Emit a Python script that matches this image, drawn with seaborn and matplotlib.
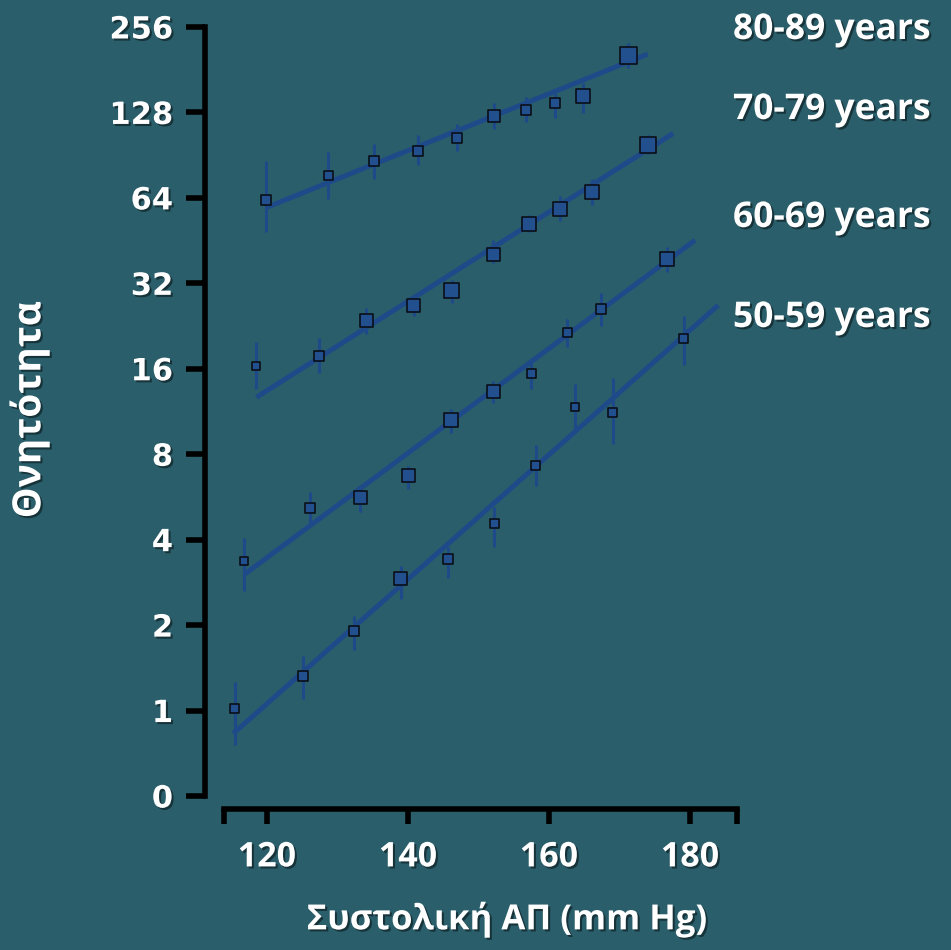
import numpy as np
import pandas as pd
import matplotlib
matplotlib.use("Agg")
import matplotlib.pyplot as plt
import matplotlib.patheffects as pe
import seaborn as sns

# ---------------- data ----------------
groups = ["50-59 years", "60-69 years", "70-79 years", "80-89 years"]

sbp_50 = [115.4, 125.1, 132.4, 139.0, 145.6, 152.2, 158.1, 163.7, 169.0, 179.1]
mort_50 = [1.02, 1.32, 1.90, 2.92, 3.43, 4.57, 7.32, 11.7, 11.25, 20.5]
lo_50 = [0.754, 1.10, 1.63, 2.48, 2.94, 3.77, 6.17, 9.72, 8.66, 16.5]
hi_50 = [1.26, 1.56, 2.15, 3.22, 3.77, 5.22, 8.60, 14.1, 14.9, 24.5]
wt_50 = [9, 10, 10, 13, 10, 9, 9, 8, 9, 9]

sbp_60 = [116.8, 126.1, 133.2, 140.0, 146.1, 152.1, 157.5, 162.6, 167.4, 176.8]
mort_60 = [3.36, 5.19, 5.64, 6.75, 10.6, 13.3, 15.35, 21.5, 25.9, 38.9]
lo_60 = [2.64, 4.57, 5.01, 6.01, 9.54, 12.1, 13.6, 19.1, 22.7, 35.1]
hi_60 = [4.07, 5.88, 5.97, 7.30, 11.5, 14.5, 17.1, 24.0, 29.7, 42.8]
wt_60 = [8, 10, 13, 13, 14, 13, 9, 9, 10, 14]

sbp_70 = [118.4, 127.4, 134.1, 140.8, 146.2, 152.1, 157.1, 161.6, 166.1, 174.1]
mort_70 = [16.3, 17.8, 23.7, 26.8, 30.1, 40.3, 51.9, 58.4, 67.1, 98.5]
lo_70 = [13.6, 15.4, 21.2, 24.5, 27.3, 37.6, 48.5, 53.0, 60.5, 91.3]
hi_70 = [19.9, 20.6, 26.2, 27.9, 32.8, 45.4, 55.7, 64.9, 74.5, 106.5]
wt_70 = [8, 10, 13, 13, 15, 13, 14, 14, 14, 16]

sbp_80 = [119.9, 128.7, 135.1, 141.4, 146.9, 152.2, 156.8, 160.9, 164.8, 171.2]
mort_80 = [63.0, 77.0, 86.0, 94.0, 104.0, 124.0, 130.5, 138.0, 146.0, 203.6]
lo_80 = [48.5, 63.4, 74.5, 83.5, 93.6, 112.1, 118.4, 122.0, 127.7, 183.5]
hi_80 = [86.3, 92.8, 98.8, 106.5, 116.5, 137.8, 145.4, 149.5, 163.0, 225.0]
wt_80 = [10, 9, 10, 10, 10, 12, 10, 10, 14, 17]

# fitted trend lines (start / end)
fit_x0 = [115.2, 116.8, 118.5, 119.9]
fit_y0 = [0.83, 3.02, 12.7, 59.2]
fit_x1 = [184.0, 180.7, 177.6, 174.0]
fit_y1 = [26.8, 45.4, 108.0, 205.6]

y_ticks = [0.5, 1, 2, 4, 8, 16, 32, 64, 128, 256]
y_tick_labels = ["0", "1", "2", "4", "8", "16", "32", "64", "128", "256"]
x_ticks = [120, 140, 160, 180]
x_tick_labels = ["120", "140", "160", "180"]
x_axis_ends = [113.9, 186.7]

x_label = "Συστολική ΑΠ (mm Hg)"
y_label = "Θνητότητα"

# ---------------- assemble ----------------
frames = []
for g, x, y, lo, hi, w in [
    (groups[0], sbp_50, mort_50, lo_50, hi_50, wt_50),
    (groups[1], sbp_60, mort_60, lo_60, hi_60, wt_60),
    (groups[2], sbp_70, mort_70, lo_70, hi_70, wt_70),
    (groups[3], sbp_80, mort_80, lo_80, hi_80, wt_80),
]:
    frames.append(pd.DataFrame({"group": g, "sbp": x, "mort": y,
                                "lo": lo, "hi": hi, "w": w}))
pts = pd.DataFrame(pd.concat(frames, ignore_index=True))
# marker side in pixels -> area in pt^2
pts["area"] = (pts["w"] * 0.72) ** 2

lines = pd.DataFrame({
    "group": groups * 2,
    "sbp": fit_x0 + fit_x1,
    "mort": fit_y0 + fit_y1,
})

# ---------------- style ----------------
BG = "#2A5E6B"
LINE = "#1F4A89"
FACE = "#22508F"

sns.set_theme(style="ticks")
plt.rcParams.update({
    "figure.facecolor": BG,
    "axes.facecolor": BG,
    "savefig.facecolor": BG,
})

fig = plt.figure(figsize=(9.51, 9.50), dpi=100)
ax = fig.add_axes([205 / 951, 154 / 950, 533 / 951, 769 / 950])

sns.lineplot(data=lines, x="sbp", y="mort", units="group", estimator=None,
             color=LINE, lw=3.6, ax=ax, legend=False, solid_capstyle="butt")
ax.vlines(pts["sbp"], pts["lo"], pts["hi"], color=LINE, lw=2.2, zorder=3)
amin, amax = pts["area"].min(), pts["area"].max()
sns.scatterplot(data=pts, x="sbp", y="mort", size="area",
                sizes=(amin, amax), size_norm=(amin, amax),
                marker="s", color=FACE, edgecolor="#0A0F18", linewidth=1.2,
                ax=ax, legend=False, zorder=4)

ax.set_yscale("log", base=2)
ax.set_ylim(0.5, 256)
ax.set_xlim(111.2, 186.8)

ax.set_yticks(y_ticks)
ax.set_yticklabels(y_tick_labels)
ax.minorticks_off()
ax.set_xticks(x_axis_ends[:1] + x_ticks + x_axis_ends[1:])
ax.set_xticklabels([""] + x_tick_labels + [""])

for s in ["top", "right"]:
    ax.spines[s].set_visible(False)
ax.spines["left"].set_linewidth(4)
ax.spines["left"].set_color("black")
ax.spines["bottom"].set_linewidth(4)
ax.spines["bottom"].set_color("black")
ax.spines["bottom"].set_position(("outward", 9))
ax.spines["bottom"].set_bounds(x_axis_ends[0], x_axis_ends[1])

shadow = [pe.withSimplePatchShadow(offset=(1.5, -1.5), shadow_rgbFace="black", alpha=0.45)]

ax.tick_params(axis="y", length=14, width=4, color="black", pad=9,
               labelsize=22, labelcolor="white")
ax.tick_params(axis="x", length=11, width=4, color="black", pad=12,
               labelsize=24.5, labelcolor="white")
for t in ax.get_yticklabels():
    t.set_fontfamily("DejaVu Sans")
    t.set_fontweight("bold")
    t.set_path_effects(shadow)
for t in ax.get_xticklabels():
    t.set_fontfamily("Open Sans")
    t.set_fontweight("bold")
    t.set_path_effects(shadow)

ax.set_xlabel(x_label, fontsize=25, fontweight="bold", color="white",
              fontfamily="Open Sans", path_effects=shadow)
ax.xaxis.set_label_coords(0.567, -0.137)
ax.set_ylabel(y_label, fontsize=28, fontweight="bold", color="white",
              fontfamily="Open Sans", path_effects=shadow)
ax.yaxis.set_label_coords(-0.292, 0.502)

label_y = [318, 218, 110, 30]
for g, yy in zip(groups, label_y):
    fig.text(733 / 951, 1 - yy / 950, g, ha="left", va="center",
             fontsize=25.5, fontweight="bold", color="white",
             fontfamily="Open Sans", path_effects=shadow)

fig.savefig("out.png", dpi=100, facecolor=BG)
